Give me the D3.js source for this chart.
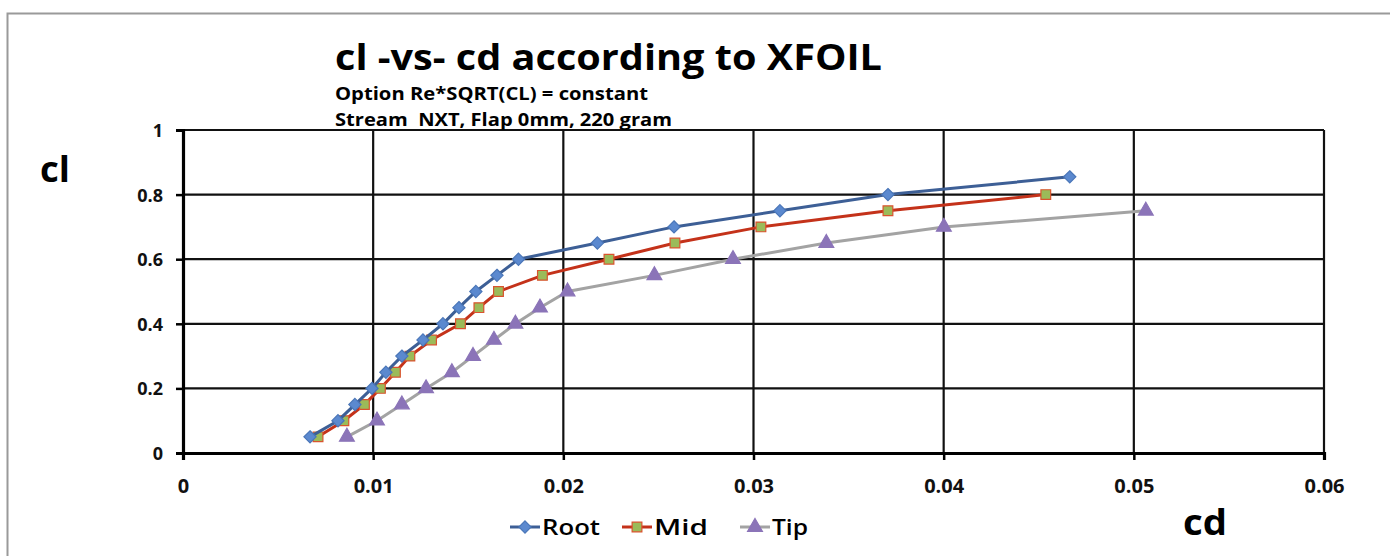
<!DOCTYPE html>
<html><head><meta charset="utf-8">
<script src="https://cdn.jsdelivr.net/npm/d3@7"></script>
<style>body{margin:0;background:#fff}svg{display:block}</style>
</head><body>
<script>
const xTicks = [0, 0.01, 0.02, 0.03, 0.04, 0.05, 0.06];
const yTicks = [0, 0.2, 0.4, 0.6, 0.8, 1];
const xTickLabels = ["0", "0.01", "0.02", "0.03", "0.04", "0.05", "0.06"];
const yTickLabels = ["0", "0.2", "0.4", "0.6", "0.8", "1"];
const seriesNames = ["Root", "Mid", "Tip"];
const rootCd = [0.00668,0.00815,0.00904,0.00994,0.01067,0.01151,0.01262,0.01367,0.01451,0.01540,0.01651,0.01764,0.02179,0.02582,0.03139,0.03707,0.04663];
const rootCl = [0.05,0.10,0.15,0.20,0.25,0.30,0.35,0.40,0.45,0.50,0.55,0.60,0.65,0.70,0.75,0.80,0.855];
const midCd = [0.00710,0.00846,0.00954,0.01038,0.01117,0.01193,0.01307,0.01459,0.01556,0.01659,0.01890,0.02240,0.02587,0.03039,0.03707,0.04537];
const midCl = [0.05,0.10,0.15,0.20,0.25,0.30,0.35,0.40,0.45,0.50,0.55,0.60,0.65,0.70,0.75,0.80];
const tipCd = [0.00862,0.01020,0.01151,0.01278,0.01414,0.01525,0.01635,0.01748,0.01877,0.02022,0.02479,0.02892,0.03383,0.04001,0.05063];
const tipCl = [0.05,0.10,0.15,0.20,0.25,0.30,0.35,0.40,0.45,0.50,0.55,0.60,0.65,0.70,0.75];

const W = 1390, H = 556;
const svg = d3.select("body").append("svg").attr("width", W).attr("height", H);
const font = "'Open Sans', 'Liberation Sans', sans-serif";

// outer border
svg.append("path").attr("d", `M7.5,${H} V13.5 H${W}`).attr("fill","none").attr("stroke","#9a9a9a").attr("stroke-width",2);

const x = d3.scaleLinear().domain([0, 0.06]).range([183, 1324]);
const y = d3.scaleLinear().domain([0, 1]).range([453, 130]);

// grid
const g = svg.append("g");
g.selectAll("line.h").data(yTicks.slice(1)).join("line")
  .attr("x1", x(0)).attr("x2", x(0.06)).attr("y1", d=>y(d)).attr("y2", d=>y(d))
  .attr("stroke","#111").attr("stroke-width",2.2);
g.selectAll("line.v").data(xTicks.slice(1)).join("line")
  .attr("y1", y(0)).attr("y2", y(1)).attr("x1", d=>x(d)).attr("x2", d=>x(d))
  .attr("stroke","#111").attr("stroke-width",2.2);

// axes
const xAxis = d3.axisBottom(x).tickValues(xTicks).tickFormat((d,i)=>xTickLabels[i]).tickSize(7);
const yAxis = d3.axisLeft(y).tickValues(yTicks).tickFormat((d,i)=>yTickLabels[i]).tickSize(7).tickPadding(13);
const xa = svg.append("g").attr("transform", `translate(0,${y(0)})`).call(xAxis);
const ya = svg.append("g").attr("transform", `translate(${x(0)},0)`).call(yAxis);
[xa, ya].forEach(a => {
  a.select(".domain").attr("stroke","#000").attr("stroke-width",3.2);
  a.selectAll(".tick line").attr("stroke","#000").attr("stroke-width",2.5);
  a.selectAll(".tick text").attr("font-family", font).attr("font-weight","bold").attr("fill","#111");
});
xa.selectAll(".tick text").attr("font-size",20).attr("y",40).attr("dy",0);
ya.selectAll(".tick text").attr("font-size",18).attr("dy","0.36em");

// series
const series = [
  {name: seriesNames[0], cd: rootCd, cl: rootCl, line:"#3d5f96", fill:"#5b89cf", stroke:"#4a76b8", shape: d3.symbolDiamond2, size: 95},
  {name: seriesNames[1], cd: midCd, cl: midCl, line:"#c4321a", fill:"#9bbb59", stroke:"#d9542e", shape: d3.symbolSquare, size: 95},
  {name: seriesNames[2], cd: tipCd, cl: tipCl, line:"#a3a3a3", fill:"#8b74b8", stroke:"#8b74b8", shape: d3.symbolTriangle, size: 95},
];
const lineGen = d3.line().x(d=>x(d[0])).y(d=>y(d[1]));
series.slice().reverse().forEach(s => {
  const pts = s.cd.map((c,i)=>[c, s.cl[i]]);
  svg.append("path").attr("d", lineGen(pts)).attr("fill","none").attr("stroke", s.line).attr("stroke-width",3);
  svg.selectAll(null).data(pts).join("path")
    .attr("transform", d=>`translate(${x(d[0])},${y(d[1])})`)
    .attr("d", d3.symbol().type(s.shape).size(s.size))
    .attr("fill", s.fill).attr("stroke", s.stroke).attr("stroke-width",1.2);
});

// titles
function txt(t, xx, yy, size, weight, len, anchor){
  const e = svg.append("text").attr("x", xx).attr("y", yy).text(t)
    .attr("font-family", font).attr("font-size", size).attr("font-weight", weight).attr("fill","#000");
  if (anchor) e.attr("text-anchor", anchor);
  if (len) e.attr("textLength", len).attr("lengthAdjust","spacingAndGlyphs");
  return e;
}
txt("cl -vs- cd according to XFOIL", 335, 70, 36, "bold", 547);
txt("Option Re*SQRT(CL) = constant", 335, 100, 17, "bold", 313);
txt("Stream  NXT, Flap 0mm, 220 gram", 335, 126, 17, "bold", 337).style("white-space","pre");
txt("cl", 40, 182, 36, "bold", 30);
txt("cd", 1183, 535, 36, "bold", 44);

// legend
const legX = [510, 622, 740];
const legLens = [58, 54, 36];
series.forEach((s,i) => {
  const lx = legX[i], ly = 527;
  svg.append("line").attr("x1", lx).attr("x2", lx+30).attr("y1", ly).attr("y2", ly).attr("stroke", s.line).attr("stroke-width",3);
  svg.append("path").attr("transform", `translate(${lx+15},${ly})`).attr("d", d3.symbol().type(s.shape).size(s.size))
    .attr("fill", s.fill).attr("stroke", s.stroke).attr("stroke-width",1.2);
  txt(s.name, lx+32, ly+8, 22, "600", legLens[i]);
});
</script>
</body></html>
